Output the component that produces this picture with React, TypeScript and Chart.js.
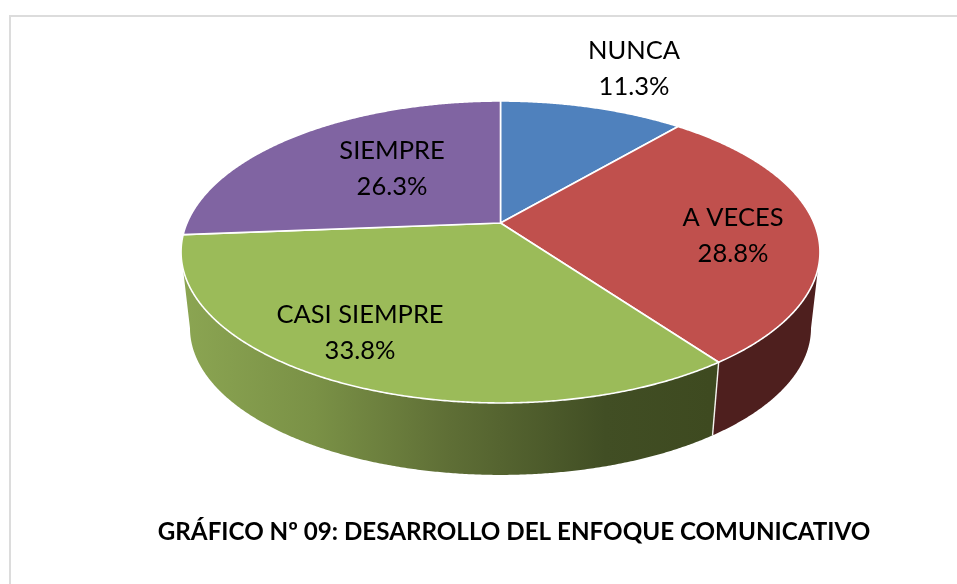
import React, { useEffect, useRef } from "react";
import { Chart, registerables } from "chart.js";

Chart.register(...registerables);

const categories = ["NUNCA", "A VECES", "CASI SIEMPRE", "SIEMPRE"];
const percentages = [11.25, 28.75, 33.75, 26.25];
const chartTitle = "GRÁFICO Nº 09: DESARROLLO DEL ENFOQUE COMUNICATIVO";

const topColors = ["#4f81bd", "#c0504d", "#9bbb59", "#8064a2"];
const sideColors = ["#283f5c", "#4e1f1e", "#3f4a21", "#3e304f"];
const labelCentres = [
  [634, 50],
  [733, 217],
  [360, 314],
  [392, 150],
];

// perspective of the tilted disc: apex position, radii, foreshortening
const apexX = 500.5;
const apexY = 223;
const radiusX = 313.5;
const radiusY = 145.4;
const tilt = 0.192;
// the underside of the disc, seen further away
const baseScale = 0.972;
const baseDrop = 77;
// only the part of the wall between the silhouette points faces the viewer
const wallStart = Math.asin(tilt);
const wallEnd = Math.PI - Math.asin(tilt);

const project = (angle: number, r: number, base: boolean): [number, number] => {
  const u = Math.cos(angle) * r;
  const v = Math.sin(angle) * r;
  const w = 1 - tilt * v;
  const s = base ? baseScale : 1;
  return [apexX + (s * radiusX * u) / w, apexY + (base ? baseDrop : 0) + (s * radiusY * v) / w];
};

const rim = (start: number, end: number, base: boolean) => {
  const n = Math.max(2, Math.ceil((end - start) / 0.006));
  const pts: [number, number][] = [];
  for (let i = 0; i <= n; i++) pts.push(project(start + ((end - start) * i) / n, 1, base));
  return pts;
};

const pieIn3d = {
  id: "pieIn3d",
  beforeDraw(chart: any) {
    const ctx = chart.ctx;
    ctx.save();
    ctx.fillStyle = "#ffffff";
    ctx.fillRect(0, 0, chart.width, chart.height);
    ctx.strokeStyle = "#dcdcdc";
    ctx.lineWidth = 2;
    ctx.beginPath();
    ctx.moveTo(10, chart.height);
    ctx.lineTo(10, 16);
    ctx.lineTo(chart.width, 16);
    ctx.stroke();
    ctx.restore();
  },
  beforeDatasetsDraw(chart: any) {
    const ctx = chart.ctx;
    const arcs = chart.getDatasetMeta(0).data;
    ctx.save();
    ctx.lineJoin = "round";

    arcs.forEach((arc: any, i: number) => {
      const { startAngle, endAngle } = arc.getProps(["startAngle", "endAngle"], true);
      const from = Math.max(startAngle, wallStart);
      const to = Math.min(endAngle, wallEnd);
      if (to <= from) return;
      const top = rim(from, to, false);
      const base = rim(from, to, true).reverse();
      let fill: any = sideColors[i];
      if (i === 2) {
        const g = ctx.createLinearGradient(183, 0, 711, 0);
        g.addColorStop(0, "#8ba552");
        g.addColorStop(0.25, "#7a9146");
        g.addColorStop(0.5, "#5f6f36");
        g.addColorStop(0.8, "#414e24");
        g.addColorStop(1, "#3e4a20");
        fill = g;
      }
      ctx.fillStyle = fill;
      ctx.beginPath();
      [...top, ...base].forEach(([x, y], k) => (k ? ctx.lineTo(x, y) : ctx.moveTo(x, y)));
      ctx.closePath();
      ctx.fill();
    });

    // white seam where two front side walls meet
    arcs.forEach((arc: any) => {
      const { startAngle } = arc.getProps(["startAngle"], true);
      if (startAngle > wallStart && startAngle < wallEnd) {
        const a = project(startAngle, 1, false);
        const b = project(startAngle, 1, true);
        ctx.strokeStyle = "#f4f4f0";
        ctx.lineWidth = 1.4;
        ctx.beginPath();
        ctx.moveTo(a[0], a[1]);
        ctx.lineTo(b[0], b[1]);
        ctx.stroke();
      }
    });

    arcs.forEach((arc: any) => {
      const { startAngle, endAngle } = arc.getProps(["startAngle", "endAngle"], true);
      ctx.fillStyle = arc.options.backgroundColor;
      ctx.strokeStyle = "#ffffff";
      ctx.lineWidth = 1.6;
      ctx.beginPath();
      ctx.moveTo(apexX, apexY);
      rim(startAngle, endAngle, false).forEach(([x, y]) => ctx.lineTo(x, y));
      ctx.closePath();
      ctx.fill();
      ctx.stroke();
    });

    ctx.fillStyle = "#000000";
    ctx.textAlign = "center";
    ctx.textBaseline = "alphabetic";
    ctx.font = "25.5px Lato";
    categories.forEach((name, i) => {
      const [x, y] = labelCentres[i];
      ctx.fillText(name, x, y + 9);
      ctx.fillText(percentages[i].toFixed(1) + "%", x, y + 45);
    });

    ctx.font = "bold 24.2px Lato";
    ctx.fillText(chartTitle, 514, 540);
    ctx.restore();
    return false;
  },
};

export default function App() {
  const ref = useRef<HTMLCanvasElement>(null);
  useEffect(() => {
    document.body.style.margin = "0";
    const chart = new Chart(ref.current as HTMLCanvasElement, {
      type: "pie",
      data: {
        labels: categories,
        datasets: [{ data: percentages, backgroundColor: topColors, borderColor: "#ffffff" }],
      },
      options: {
        responsive: false,
        animation: false,
        plugins: { legend: { display: false }, tooltip: { enabled: false }, title: { display: false } },
      },
      plugins: [pieIn3d],
    } as any);
    return () => chart.destroy();
  }, []);
  return <canvas ref={ref} width={957} height={584} style={{ display: "block" }} />;
}
